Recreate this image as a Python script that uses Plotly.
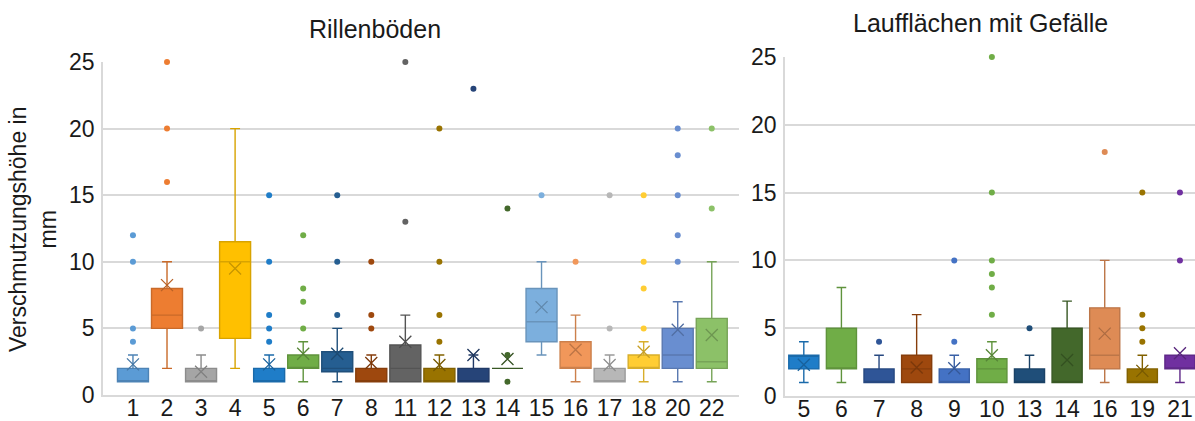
import plotly.graph_objects as go

# ---------------- Data: Rillenböden (left) ----------------
cats_L = ["1", "2", "3", "4", "5", "6", "7", "8", "11", "12", "13", "14", "15", "16", "17", "18", "20", "22"]
q1_L = [1, 5, 1, 4.25, 1, 2, 1.75, 1, 1, 1, 1, 2, 4, 2, 1, 2, 2, 2]
med_L = [1, 6, 1, 10, 1, 2, 2, 1, 2, 1, 1, 2, 5.5, 2, 1, 2, 3, 2.5]
q3_L = [2, 8, 2, 11.5, 2, 3, 3.25, 2, 3.75, 2, 2, 2, 8, 4, 2, 3, 5, 5.75]
lo_L = [1, 2, 1, 2, 1, 1, 1, 1, 1, 1, 1, 2, 3, 1, 1, 1, 1, 1]
hi_L = [3, 10, 3, 20, 3, 4, 5, 3, 6, 3, 3, 2, 10, 6, 3, 4, 7, 10]
mean_L = [2.3, 8.25, 1.75, 9.5, 2.3, 3.1, 3.1, 2.4, 4, 2.25, 3, 2.7, 6.6, 3.4, 2.25, 3.25, 4.9, 4.5]
out_L = [[4, 5, 10, 12], [16, 20, 25], [5], [], [4, 5, 6, 10, 15], [5, 7, 8, 12], [6, 10, 15],
         [5, 6, 10], [13, 25], [4, 6, 10, 20], [23], [1, 3, 14], [15], [10], [5, 15],
         [5, 8, 10, 15], [10, 12, 15, 18, 20], [14, 20]]
col_L = ["#5B9BD5", "#ED7D31", "#A5A5A5", "#FFC000", "#1F7DC8", "#70AD47", "#255E91", "#9E480E",
         "#636363", "#997300", "#264478", "#43682B", "#7CAFDD", "#F1975A", "#B7B7B7", "#FFCD33",
         "#698ED0", "#8CC168"]

# ---------------- Data: Laufflächen mit Gefälle (right) ----------------
cats_R = ["5", "6", "7", "8", "9", "10", "13", "14", "16", "19", "21"]
q1_R = [2, 2, 1, 1, 1, 1, 1, 1, 2, 1, 2]
med_R = [3, 2, 1, 2, 1, 2, 1, 1, 3, 1, 2]
q3_R = [3, 5, 2, 3, 2, 2.75, 2, 5, 6.5, 2, 3]
lo_R = [1, 1, 1, 1, 1, 1, 1, 1, 1, 1, 1]
hi_R = [4, 8, 3, 6, 3, 4, 3, 7, 10, 3, 3]
mean_R = [2.3, None, None, 2.1, 2.05, 3, None, 2.65, 4.6, 1.85, 3.15]
out_R = [[], [], [4], [], [4, 10], [6, 8, 9, 10, 15, 25], [5], [], [18], [4, 5, 6, 15], [10, 15]]
col_R = ["#1F7DC8", "#70AD47", "#2F5597", "#9E480E", "#4472C4", "#70AD47", "#1F4E79", "#43682B",
         "#DE8B55", "#997300", "#7030A0"]


def shade(hex_color, f):
    h = hex_color.lstrip("#")
    r, g, b = int(h[0:2], 16), int(h[2:4], 16), int(h[4:6], 16)
    return f"rgb({int(r * f)},{int(g * f)},{int(b * f)})"


fig = go.Figure()


def add_panel(cats, q1, med, q3, lo, hi, mean, outs, cols, xa, ya, bw):
    for i, c in enumerate(cats):
        col = cols[i]
        dark = shade(col, 0.85)
        fig.add_trace(go.Box(
            x=[i], q1=[q1[i]], median=[med[i]], q3=[q3[i]],
            lowerfence=[lo[i]], upperfence=[hi[i]],
            width=bw, whiskerwidth=0.32,
            fillcolor=col, line=dict(color=dark, width=1.4),
            xaxis=xa, yaxis=ya, showlegend=False, hoverinfo="skip",
        ))
        if mean[i] is not None:
            fig.add_trace(go.Scatter(
                x=[i], y=[mean[i]], mode="markers",
                marker=dict(symbol="x-thin", size=12, line=dict(color=shade(col, 0.78), width=1.3)),
                xaxis=xa, yaxis=ya, showlegend=False, hoverinfo="skip", cliponaxis=False,
            ))
        if outs[i]:
            fig.add_trace(go.Scatter(
                x=[i] * len(outs[i]), y=outs[i], mode="markers",
                marker=dict(symbol="circle", size=6, color=col),
                xaxis=xa, yaxis=ya, showlegend=False, hoverinfo="skip", cliponaxis=False,
            ))


add_panel(cats_L, q1_L, med_L, q3_L, lo_L, hi_L, mean_L, out_L, col_L, "x", "y", 0.91)
add_panel(cats_R, q1_R, med_R, q3_R, lo_R, hi_R, mean_R, out_R, col_R, "x2", "y2", 0.8)

W, H = 1195, 421
font = "Liberation Sans, Arial, sans-serif"
grid = "#D9D9D9"
tick_size = 23

fig.update_layout(
    width=W, height=H,
    margin=dict(l=0, r=0, t=0, b=0, pad=0),
    paper_bgcolor="white", plot_bgcolor="white",
    boxmode="overlay",
    font=dict(family=font, size=tick_size, color="#1a1a1a"),
    xaxis=dict(domain=[103 / W, 739 / W], range=[-0.88, 17.8], automargin=False,
               tickmode="array", tickvals=list(range(len(cats_L))), ticktext=cats_L,
               showgrid=False, zeroline=False, showline=True, linecolor=grid, linewidth=2,
               ticks="", ticklabelstandoff=-9, tickfont=dict(size=tick_size), anchor="y"),
    yaxis=dict(domain=[1 - 395 / H, 1 - 62 / H], range=[0, 25], dtick=5, automargin=False,
               showgrid=True, gridcolor=grid, gridwidth=1.5, zeroline=False,
               showline=True, linecolor=grid, linewidth=1.5, ticks="",
               ticklabelstandoff=2, tickfont=dict(size=tick_size), anchor="x"),
    xaxis2=dict(domain=[785 / W, 1.0], range=[-0.5, 10.4], automargin=False,
                tickmode="array", tickvals=list(range(len(cats_R))), ticktext=cats_R,
                showgrid=False, zeroline=False, showline=True, linecolor=grid, linewidth=2,
                ticks="", ticklabelstandoff=-9, tickfont=dict(size=tick_size), anchor="y2"),
    yaxis2=dict(domain=[1 - 396 / H, 1 - 57 / H], range=[0, 25], dtick=5, automargin=False,
                showgrid=True, gridcolor=grid, gridwidth=1.5, zeroline=False,
                showline=True, linecolor=grid, linewidth=1.5, ticks="",
                ticklabelstandoff=2, tickfont=dict(size=tick_size), anchor="x2"),
    annotations=[
        dict(text="Rillenböden", x=375 / W, y=1 - 29 / H, xref="paper", yref="paper",
             xanchor="center", yanchor="middle", showarrow=False, font=dict(size=25)),
        dict(text="Laufflächen mit Gefälle", x=980 / W, y=1 - 23 / H, xref="paper", yref="paper",
             xanchor="center", yanchor="middle", showarrow=False, font=dict(size=25)),
        dict(text="Verschmutzungshöhe in<br>mm", x=33 / W, y=1 - 229 / H, xref="paper", yref="paper",
             xanchor="center", yanchor="middle", showarrow=False, textangle=-90,
             font=dict(size=23)),
    ],
)

fig.write_html("out.html", config={"displayModeBar": False},
               post_script="document.body.style.margin='0';")
